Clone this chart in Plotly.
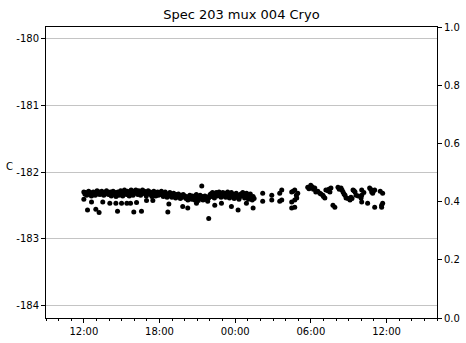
import pandas as pd
import plotly.graph_objects as go

base = pd.Timestamp("2023-01-01 00:00")

# Main band, day 1 (hours since base)
band1_hours = [
    12.00,12.08,12.15,12.22,12.30,12.38,12.45,12.52,12.60,12.68,12.75,12.82,12.90,12.98,13.05,13.12,13.20,13.28,13.35,13.42,13.50,13.58,13.65,13.72,13.80,13.88,13.95,
    14.02,14.10,14.18,14.25,14.32,14.40,14.48,14.55,14.62,14.70,14.78,14.85,14.92,15.00,15.08,15.15,15.22,15.30,15.38,15.45,15.52,15.60,15.68,15.75,15.82,15.90,15.98,16.05,16.12,16.20,16.28,16.35,16.42,16.50,16.58,16.65,16.72,16.80,16.88,16.95,17.02,17.10,17.18,17.25,17.32,17.40,17.48,17.55,17.62,17.70,17.78,17.85,17.92,
    18.00,18.08,18.15,18.22,18.30,18.38,18.45,18.52,18.60,18.68,18.75,18.82,18.90,18.98,19.05,19.12,19.20,19.28,19.35,19.42,19.50,19.58,19.65,19.72,19.80,19.88,19.95,
    20.02,20.10,20.18,20.25,20.32,20.40,20.48,20.55,20.62,20.70,20.78,20.85,20.92,21.00,21.08,21.15,21.22,21.30,21.38,21.45,21.52,21.60,21.68,21.75,21.82,21.90,21.98,
    22.05,22.12,22.20,22.28,22.35,22.42,22.50,22.58,22.65,22.72,22.80,22.88,22.95,23.02,23.10,23.18,23.25,23.32,23.40,23.48,23.55,23.62,23.70,23.78,23.85,23.92,24.00,24.08,24.15,24.22,24.30,24.38,24.45,24.52,24.60,24.68,24.75,24.82,24.90,24.98,25.05,25.12,25.20,25.28,25.35,25.42,25.50,
]
band1_values = [
    -182.30,-182.33,-182.31,-182.35,-182.32,-182.29,-182.34,-182.31,-182.36,-182.33,-182.30,-182.32,-182.35,-182.31,-182.28,-182.33,-182.30,-182.34,-182.32,-182.29,-182.31,-182.35,-182.33,-182.30,-182.28,-182.32,-182.34,
    -182.33,-182.30,-182.36,-182.32,-182.29,-182.34,-182.31,-182.37,-182.33,-182.30,-182.35,-182.32,-182.28,-182.33,-182.36,-182.31,-182.27,-182.30,-182.34,-182.29,-182.32,-182.36,-182.30,-182.27,-182.31,-182.35,-182.29,-182.32,-182.27,-182.30,-182.34,-182.28,-182.31,-182.35,-182.30,-182.27,-182.32,-182.29,-182.33,-182.36,-182.31,-182.28,-182.33,-182.30,-182.34,-182.37,-182.31,-182.29,-182.33,-182.36,-182.32,-182.30,-182.35,
    -182.31,-182.34,-182.29,-182.33,-182.37,-182.32,-182.30,-182.35,-182.38,-182.33,-182.36,-182.31,-182.34,-182.38,-182.35,-182.32,-182.36,-182.39,-182.34,-182.37,-182.33,-182.36,-182.40,-182.35,-182.38,-182.34,-182.37,
    -182.36,-182.40,-182.38,-182.42,-182.37,-182.35,-182.39,-182.41,-182.36,-182.38,-182.42,-182.37,-182.34,-182.39,-182.43,-182.38,-182.35,-182.40,-182.37,-182.42,-182.39,-182.36,-182.41,-182.38,-182.44,-182.39,-182.35,
    -182.33,-182.37,-182.31,-182.35,-182.39,-182.34,-182.31,-182.36,-182.33,-182.30,-182.35,-182.38,-182.33,-182.31,-182.36,-182.32,-182.38,-182.34,-182.30,-182.35,-182.39,-182.33,-182.31,-182.37,-182.34,-182.40,-182.36,-182.32,-182.38,-182.35,-182.41,-182.37,-182.33,-182.36,-182.31,-182.34,-182.39,-182.35,-182.32,-182.37,-182.41,-182.36,-182.33,-182.38,-182.42,-182.37,-182.40,
]

# Scattered lower / outlying points, day 1
low1_hours = [12.29,12.95,13.21,14.67,15.96,16.57,18.66,21.90,
              12.00,12.61,13.50,14.06,14.54,14.99,15.41,15.70,16.18,16.97,17.47,18.74,19.84,20.24,20.93,22.38,22.91,23.70,24.23,24.89,25.42,
              21.35]
low1_values = [-182.57,-182.56,-182.61,-182.59,-182.60,-182.59,-182.60,-182.70,
               -182.41,-182.45,-182.45,-182.47,-182.47,-182.47,-182.47,-182.47,-182.46,-182.43,-182.43,-182.48,-182.52,-182.54,-182.47,-182.50,-182.47,-182.52,-182.57,-182.47,-182.54,
               -182.21]

# Day 2 points
day2_hours = [26.18,26.18,26.90,26.90,27.53,27.53,
              27.69,27.69,28.48,28.72,28.96,28.88,28.72,28.48,28.48,28.72,28.60,28.85,
              29.75,29.99,30.31,30.39,30.71,30.95,31.11,31.19,31.51,31.59,29.85,30.10,30.55,31.35,30.20,30.80,31.00,31.42,
              31.75,31.90,
              32.15,32.39,32.55,32.71,32.79,33.10,33.34,33.50,33.58,33.18,33.98,32.25,32.95,33.42,32.47,32.63,33.26,33.75,
              34.03,34.03,34.03,34.66,34.82,34.90,35.06,34.50,35.06,35.61,35.69,35.69,35.61,34.74,35.50,34.20,34.98]
day2_values = [-182.32,-182.44,-182.35,-182.42,-182.32,-182.44,
               -182.27,-182.42,-182.30,-182.27,-182.32,-182.39,-182.42,-182.45,-182.54,-182.53,-182.29,-182.35,
               -182.23,-182.20,-182.24,-182.30,-182.32,-182.35,-182.39,-182.27,-182.30,-182.24,-182.25,-182.22,-182.29,-182.28,-182.26,-182.33,-182.37,-182.26,
               -182.50,-182.53,
               -182.23,-182.24,-182.30,-182.35,-182.39,-182.42,-182.27,-182.30,-182.35,-182.38,-182.39,-182.26,-182.40,-182.28,-182.27,-182.33,-182.40,-182.36,
               -182.27,-182.35,-182.45,-182.24,-182.30,-182.32,-182.27,-182.47,-182.53,-182.50,-182.32,-182.47,-182.53,-182.26,-182.29,-182.31,-182.28]

left_ticks = [-180, -181, -182, -183, -184]
right_ticks = [0.0, 0.2, 0.4, 0.6, 0.8, 1.0]

hours = band1_hours + low1_hours + day2_hours
values = band1_values + low1_values + day2_values
times = [base + pd.Timedelta(hours=h) for h in hours]

font = "DejaVu Sans"
fig = go.Figure()
fig.add_trace(go.Scatter(x=times, y=values, mode="markers",
                         marker=dict(color="black", size=5, line=dict(width=0)),
                         showlegend=False, hoverinfo="skip"))
fig.add_trace(go.Scatter(x=[times[0]], y=[None], yaxis="y2", mode="markers",
                         showlegend=False, hoverinfo="skip"))

fig.update_layout(
    width=466, height=343,
    margin=dict(l=46, r=29, t=27, b=25, autoexpand=False),
    paper_bgcolor="white", plot_bgcolor="white",
    font=dict(family=font, size=10, color="black"),
    title=dict(text="Spec 203 mux 004 Cryo", x=0.518, xanchor="center",
               y=1 - 14 / 343, yanchor="middle", font=dict(size=13, family=font, color="black")),
    xaxis=dict(range=[base + pd.Timedelta(hours=9), base + pd.Timedelta(hours=40)],
               type="date", tickformat="%H:%M", dtick=6 * 3600000, tick0=base,
               ticks="outside", ticklen=4, tickcolor="black", tickwidth=1,
               showline=True, linecolor="black", linewidth=1, mirror=True,
               showgrid=False, zeroline=False, automargin=False,
               minor=dict(dtick=3600000, tick0=base, ticks="outside", ticklen=2,
                          tickcolor="black", showgrid=False),
               tickfont=dict(size=10, family=font, color="black")),
    yaxis=dict(range=[-184.195, -179.82], tickvals=left_ticks,
               ticktext=[str(t) for t in left_ticks],
               ticks="outside", ticklen=4, tickcolor="black",
               showline=True, linecolor="black", linewidth=1, automargin=False,
               showgrid=True, gridcolor="#c4c4c4", gridwidth=1, zeroline=False,
               tickfont=dict(size=10, family=font, color="black")),
    yaxis2=dict(overlaying="y", side="right", range=[0, 1], tickvals=right_ticks,
                ticktext=[f"{t:.1f}" for t in right_ticks],
                ticks="outside", ticklen=4, tickcolor="black", automargin=False,
                showline=True, linecolor="black", linewidth=1,
                showgrid=False, zeroline=False,
                tickfont=dict(size=10, family=font, color="black")),
)
fig.add_annotation(text="C", xref="paper", yref="paper", x=-37 / 391, y=(318 - 166) / 291,
                   showarrow=False, xanchor="center", yanchor="middle",
                   font=dict(size=10, family=font, color="black"))

fig.write_html("out.html", config={"displayModeBar": False},
               post_script="document.body.style.margin='0';")
